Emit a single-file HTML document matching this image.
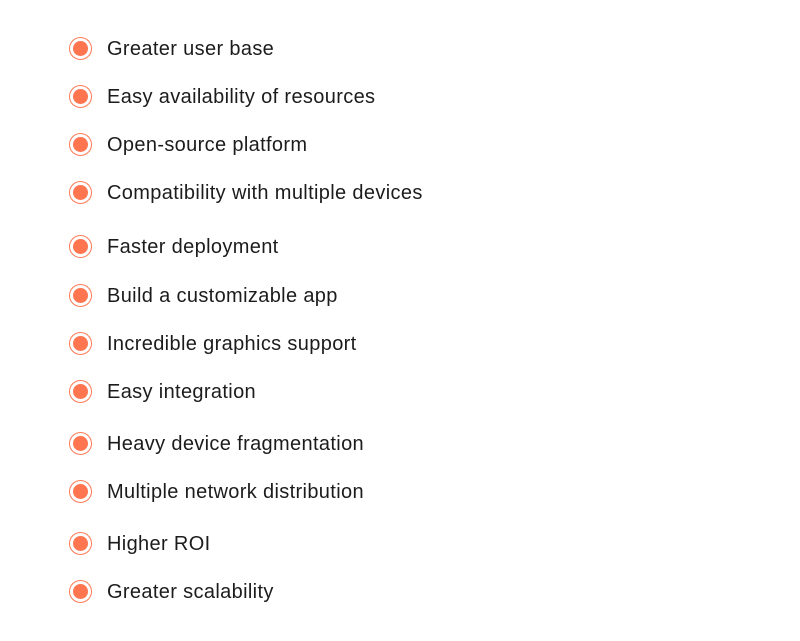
<!DOCTYPE html>
<html><head><style>
body{margin:0;width:800px;height:641px;background:#fff;font-family:"Liberation Sans",sans-serif;}
.i{position:absolute;left:0;height:24px;}
.b{position:absolute;left:69px;width:21px;height:21px;border:1.2px solid #ff7a55;border-radius:50%;top:-11.5px;}
.b::after{content:"";position:absolute;left:3px;top:3px;width:15px;height:15px;border-radius:50%;background:#ff7550;}
.t{position:absolute;left:107px;font-size:20px;letter-spacing:0.35px;color:#1c1c1c;white-space:nowrap;line-height:24px;top:-11px;}
</style></head><body>
<div style="position:relative">
<div class="i" style="top:48px"><div class="b"></div><div class="t">Greater user base</div></div>
<div class="i" style="top:96px"><div class="b"></div><div class="t">Easy availability of resources</div></div>
<div class="i" style="top:144px"><div class="b"></div><div class="t">Open-source platform</div></div>
<div class="i" style="top:192px"><div class="b"></div><div class="t">Compatibility with multiple devices</div></div>
<div class="i" style="top:246px"><div class="b"></div><div class="t">Faster deployment</div></div>
<div class="i" style="top:295px"><div class="b"></div><div class="t">Build a customizable app</div></div>
<div class="i" style="top:343px"><div class="b"></div><div class="t">Incredible graphics support</div></div>
<div class="i" style="top:391px"><div class="b"></div><div class="t">Easy integration</div></div>
<div class="i" style="top:443px"><div class="b"></div><div class="t">Heavy device fragmentation</div></div>
<div class="i" style="top:491px"><div class="b"></div><div class="t">Multiple network distribution</div></div>
<div class="i" style="top:543px"><div class="b"></div><div class="t">Higher ROI</div></div>
<div class="i" style="top:591px"><div class="b"></div><div class="t">Greater scalability</div></div>
</div>
</body></html>
